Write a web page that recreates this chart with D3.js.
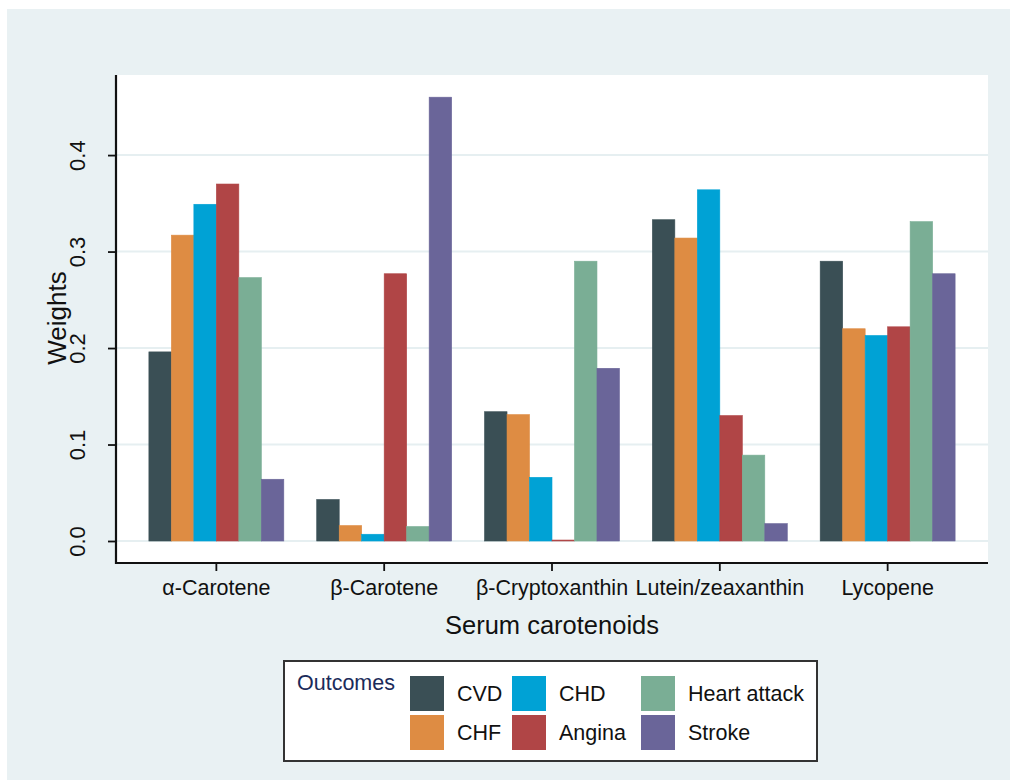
<!DOCTYPE html>
<html>
<head>
<meta charset="utf-8">
<script src="https://cdn.jsdelivr.net/npm/d3@7"></script>
<style>
  body { margin: 0; background: #fff; }
  svg text { font-family: "Liberation Sans", Arial, sans-serif; }
</style>
</head>
<body>
<svg id="chart" width="1010" height="780"></svg>
<script>
// categories on the x axis
var categories = ['α-Carotene', 'β-Carotene', 'β-Cryptoxanthin', 'Lutein/zeaxanthin', 'Lycopene'];
var outcomes = ['CVD', 'CHF', 'CHD', 'Angina', 'Heart attack', 'Stroke'];

// weights per outcome, one value per category
var cvd = [0.196, 0.043, 0.134, 0.333, 0.290];
var chf = [0.317, 0.016, 0.131, 0.314, 0.220];
var chd = [0.349, 0.007, 0.066, 0.364, 0.213];
var angina = [0.370, 0.277, 0.001, 0.130, 0.222];
var heartAttack = [0.273, 0.015, 0.290, 0.089, 0.331];
var stroke = [0.064, 0.460, 0.179, 0.018, 0.277];

var yTicks = [0, 0.1, 0.2, 0.3, 0.4];

var series = [cvd, chf, chd, angina, heartAttack, stroke];
var colors = ['#3a4f55', '#de8c43', '#00a2d5', '#b04546', '#7aae95', '#6a6599'];

//------------------------------------------------------------
// layout

var svg = d3.select('#chart');
var plot = {left: 116, right: 988, top: 75, bottom: 563};

svg.append('rect')
    .attr('x', 7).attr('y', 9)
    .attr('width', 1010).attr('height', 780)
    .attr('fill', '#e9f1f3');

svg.append('rect')
    .attr('x', plot.left).attr('y', plot.top)
    .attr('width', plot.right - plot.left)
    .attr('height', plot.bottom - plot.top)
    .attr('fill', '#ffffff');

var x0 = d3.scaleBand()
    .domain(categories)
    .range([plot.left, plot.right])
    .padding(0.196);

var x1 = d3.scaleBand()
    .domain(outcomes)
    .range([0, x0.bandwidth()]);

var y = d3.scaleLinear()
    .domain([-0.0228, 0.483])
    .range([plot.bottom, plot.top]);

// gridlines
svg.append('g').selectAll('line')
    .data(yTicks)
  .enter().append('line')
    .attr('x1', plot.left).attr('x2', plot.right)
    .attr('y1', function (d) { return y(d); })
    .attr('y2', function (d) { return y(d); })
    .attr('stroke', '#e6eff1')
    .attr('stroke-width', 2);

// bars
var rows = [];
categories.forEach(function (c, i) {
  outcomes.forEach(function (o, j) {
    rows.push({cat: c, key: o, value: series[j][i], color: colors[j]});
  });
});

svg.append('g').selectAll('rect')
    .data(rows)
  .enter().append('rect')
    .attr('x', function (d) { return x0(d.cat) + x1(d.key); })
    .attr('width', x1.bandwidth())
    .attr('y', function (d) { return y(d.value); })
    .attr('height', function (d) { return y(0) - y(d.value); })
    .attr('fill', function (d) { return d.color; })
    .attr('stroke', function (d) { return d.color; })
    .attr('stroke-width', 0.6);

// y axis
var yAxis = svg.append('g')
    .attr('transform', 'translate(' + plot.left + ',0)')
    .call(d3.axisLeft(y).tickValues(yTicks).tickSize(8).tickFormat(d3.format('.1f')));
yAxis.select('.domain')
    .attr('d', 'M0,' + plot.top + 'V' + (plot.bottom + 1))
    .attr('stroke', '#111').attr('stroke-width', 2.2);
yAxis.selectAll('.tick line').attr('stroke', '#111').attr('stroke-width', 1.8);
yAxis.selectAll('.tick text')
    .attr('x', null).attr('dy', null)
    .attr('transform', 'translate(-39,0) rotate(-90)')
    .attr('text-anchor', 'middle')
    .attr('dominant-baseline', 'central')
    .style('font-size', '22px')
    .attr('fill', '#111');

// x axis
var xAxis = svg.append('g')
    .attr('transform', 'translate(0,' + plot.bottom + ')')
    .call(d3.axisBottom(x0).tickSize(8).tickSizeOuter(0));
xAxis.select('.domain')
    .attr('d', 'M' + (plot.left - 1) + ',0H' + plot.right)
    .attr('stroke', '#111').attr('stroke-width', 2.2);
xAxis.selectAll('.tick line').attr('stroke', '#111').attr('stroke-width', 1.8);
xAxis.selectAll('.tick text')
    .attr('y', 17).attr('dy', '0.71em')
    .style('font-size', '21.5px')
    .attr('fill', '#111');

// axis titles
svg.append('text')
    .attr('transform', 'translate(57,' + ((plot.top + plot.bottom) / 2 - 1) + ') rotate(-90)')
    .attr('text-anchor', 'middle')
    .attr('dominant-baseline', 'central')
    .style('font-size', '26px')
    .attr('fill', '#111')
    .text('Weights');

svg.append('text')
    .attr('x', (plot.left + plot.right) / 2)
    .attr('y', 634)
    .attr('text-anchor', 'middle')
    .style('font-size', '25.5px')
    .attr('fill', '#111')
    .text('Serum carotenoids');

//------------------------------------------------------------
// legend

var legend = svg.append('g').attr('class', 'legend');
legend.append('rect')
    .attr('x', 284).attr('y', 661)
    .attr('width', 533).attr('height', 100)
    .attr('fill', '#ffffff')
    .attr('stroke', '#333')
    .attr('stroke-width', 2);

legend.append('text')
    .attr('x', 297).attr('y', 690)
    .style('font-size', '21.5px')
    .attr('fill', '#1b2b5a')
    .text('Outcomes');

var colX = [410, 512, 641];
var rowY = [676, 715];

var item = legend.selectAll('g.item')
    .data(outcomes)
  .enter().append('g')
    .attr('class', 'item')
    .attr('transform', function (d, i) {
      return 'translate(' + colX[Math.floor(i / 2)] + ',' + rowY[i % 2] + ')';
    });
item.append('rect')
    .attr('width', 34).attr('height', 35)
    .attr('fill', function (d, i) { return colors[i]; });
item.append('text')
    .attr('x', 47).attr('y', 18)
    .attr('dominant-baseline', 'central')
    .style('font-size', '21.5px')
    .attr('fill', '#111')
    .text(function (d) { return d; });
</script>
</body>
</html>
